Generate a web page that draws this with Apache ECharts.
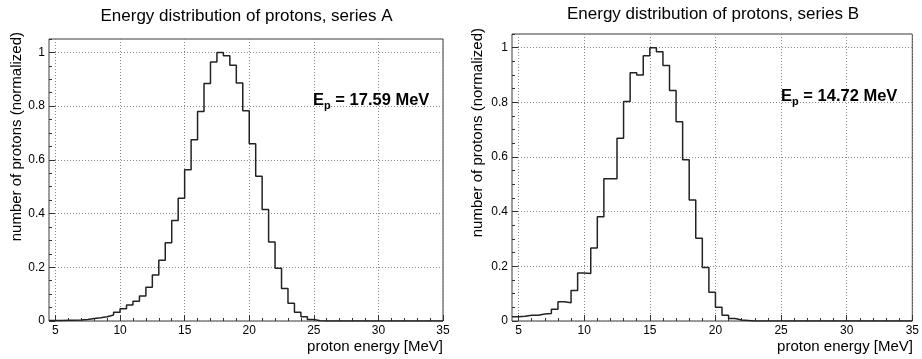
<!DOCTYPE html>
<html>
<head>
<meta charset="utf-8">
<script src="https://cdn.jsdelivr.net/npm/echarts@6/dist/echarts.min.js"></script>
<style>
html,body{margin:0;padding:0;background:#fff;}
#chart{width:922px;height:359px;}
</style>
</head>
<body>
<div id="chart"></div>
<script>
// Lower edges of the 0.5 MeV bins
const binLow = [4.5,5,5.5,6,6.5,7,7.5,8,8.5,9,9.5,10,10.5,11,11.5,12,12.5,13,13.5,14,14.5,15,15.5,16,16.5,17,17.5,18,18.5,19,19.5,20,20.5,21,21.5,22,22.5,23,23.5,24,24.5,25,25.5,26,26.5,27,27.5,28,28.5,29,29.5,30,30.5,31,31.5,32,32.5,33,33.5,34,34.5];
const binHighEnd = 35;
// Series A (normalized counts)
const seriesA = [0.002,0.002,0.003,0.003,0.004,0.006,0.009,0.012,0.016,0.022,0.033,0.046,0.06,0.074,0.093,0.126,0.171,0.226,0.291,0.374,0.457,0.563,0.675,0.78,0.884,0.964,1.0,0.988,0.952,0.886,0.783,0.66,0.539,0.415,0.294,0.196,0.121,0.066,0.033,0.016,0.006,0.001,0,0,0,0,0,0,0,0,0,0,0,0,0,0,0,0,0,0,0];
// Series B (normalized counts)
const seriesB = [0.016,0.017,0.021,0.021,0.026,0.027,0.043,0.07,0.067,0.112,0.176,0.174,0.267,0.381,0.52,0.52,0.669,0.803,0.908,0.9,0.97,1.0,0.985,0.935,0.843,0.729,0.59,0.443,0.303,0.196,0.105,0.05,0.021,0.009,0.004,0.002,0,0,0,0,0,0,0,0,0,0,0,0,0,0,0,0,0,0,0,0,0,0,0,0,0];
const xTicks = [5,10,15,20,25,30,35];
const xMinorTicks = [6,7,8,9,11,12,13,14,16,17,18,19,21,22,23,24,26,27,28,29,31,32,33,34];
const yTicks = [0,0.2,0.4,0.6,0.8,1];
const yMinorTicks = [0.05,0.1,0.15,0.25,0.3,0.35,0.45,0.5,0.55,0.65,0.7,0.75,0.85,0.9,0.95,1.05];
const titleA = 'Energy distribution of protons, series A';
const titleB = 'Energy distribution of protons, series B';
const yTitle = 'number of protons (normalized)';
const xTitle = 'proton energy [MeV]';
const meanA = '17.59';
const meanB = '14.72';

const FONT = '"Liberation Sans", Arial, Helvetica, sans-serif';
const frameColor = '#3a3a3a';
const tickColor = '#333';

function stepData(vals){
  const d = binLow.map((x,i)=>[x, vals[i]]);
  d.push([binHighEnd, vals[vals.length-1]]);
  return d;
}

function xAxesFor(gi){
  return [
    {
      type:'value', gridIndex:gi, min:4.5, max:35, position:'bottom',
      axisLine:{show:false},
      axisTick:{show:true, inside:true, length:6, customValues:xTicks, lineStyle:{color:tickColor}},
      axisLabel:{show:true, customValues:xTicks, margin:4, color:'#000', fontSize:12, fontFamily:FONT},
      splitLine:{show:true, lineStyle:{color:'#888', type:[1,2], width:1}}
    },
    {
      type:'value', gridIndex:gi, min:4.5, max:35, position:'bottom',
      axisLine:{show:false},
      axisTick:{show:true, inside:true, length:3, customValues:xMinorTicks, lineStyle:{color:tickColor}},
      axisLabel:{show:false},
      splitLine:{show:false}
    }
  ];
}
function yAxesFor(gi){
  return [
    {
      type:'value', gridIndex:gi, min:0, max:1.05, position:'left',
      axisLine:{show:false},
      axisTick:{show:true, inside:true, length:6, customValues:yTicks, lineStyle:{color:tickColor}},
      axisLabel:{show:true, customValues:yTicks, margin:4, color:'#000', fontSize:12, fontFamily:FONT},
      splitLine:{show:true, lineStyle:{color:'#888', type:[1,2], width:1}}
    },
    {
      type:'value', gridIndex:gi, min:0, max:1.05, position:'left',
      axisLine:{show:false},
      axisTick:{show:true, inside:true, length:3, customValues:yMinorTicks, lineStyle:{color:tickColor}},
      axisLabel:{show:false},
      splitLine:{show:false}
    }
  ];
}

const chart = echarts.init(document.getElementById('chart'), null, {renderer:'canvas'});

function annot(x, y, val){
  return {
    type:'text', x:x, y:y, z:100,
    style:{
      text:'{b|E}{s|p}{b| = ' + val + ' MeV}',
      rich:{
        b:{fontSize:16.5, fontWeight:'bold', fontFamily:FONT, fill:'#000', verticalAlign:'top', lineHeight:19},
        s:{fontSize:11, fontWeight:'bold', fontFamily:FONT, fill:'#000', verticalAlign:'top', padding:[8,0,0,0], lineHeight:19}
      }
    }
  };
}

const option = {
  animation:false,
  backgroundColor:'#fff',
  grid:[
    {left:49, top:39, width:394, height:282, show:true, borderColor:frameColor, borderWidth:1, backgroundColor:'transparent'},
    {left:512, top:34, width:401, height:287, show:true, borderColor:frameColor, borderWidth:1, backgroundColor:'transparent'}
  ],
  xAxis: xAxesFor(0).concat(xAxesFor(1)),
  yAxis: yAxesFor(0).concat(yAxesFor(1)),
  series:[
    {type:'line', xAxisIndex:0, yAxisIndex:0, step:'end', showSymbol:false, symbol:'none', data:stepData(seriesA),
     lineStyle:{color:'#222', width:1.5}, clip:true, z:5},
    {type:'line', xAxisIndex:2, yAxisIndex:2, step:'end', showSymbol:false, symbol:'none', data:stepData(seriesB),
     lineStyle:{color:'#222', width:1.5}, clip:true, z:5}
  ],
  graphic:[
    {type:'text', x:246.5, y:16.5, style:{text:titleA, fontSize:17, fontFamily:FONT, fill:'#000', textAlign:'center', textVerticalAlign:'middle'}},
    {type:'text', x:713, y:14, style:{text:titleB, fontSize:17, fontFamily:FONT, fill:'#000', textAlign:'center', textVerticalAlign:'middle'}},
    {type:'text', x:16.5, y:32, rotation:Math.PI/2, style:{text:yTitle, fontSize:15, fontFamily:FONT, fill:'#000', textAlign:'right', textVerticalAlign:'middle'}},
    {type:'text', x:478, y:28, rotation:Math.PI/2, style:{text:yTitle, fontSize:15, fontFamily:FONT, fill:'#000', textAlign:'right', textVerticalAlign:'middle'}},
    {type:'text', x:443, y:347, style:{text:xTitle, fontSize:15, fontFamily:FONT, fill:'#000', textAlign:'right', textVerticalAlign:'middle'}},
    {type:'text', x:913, y:347, style:{text:xTitle, fontSize:15, fontFamily:FONT, fill:'#000', textAlign:'right', textVerticalAlign:'middle'}},
    annot(313, 92, meanA),
    annot(781, 88, meanB)
  ]
};
chart.setOption(option);
</script>
</body>
</html>
